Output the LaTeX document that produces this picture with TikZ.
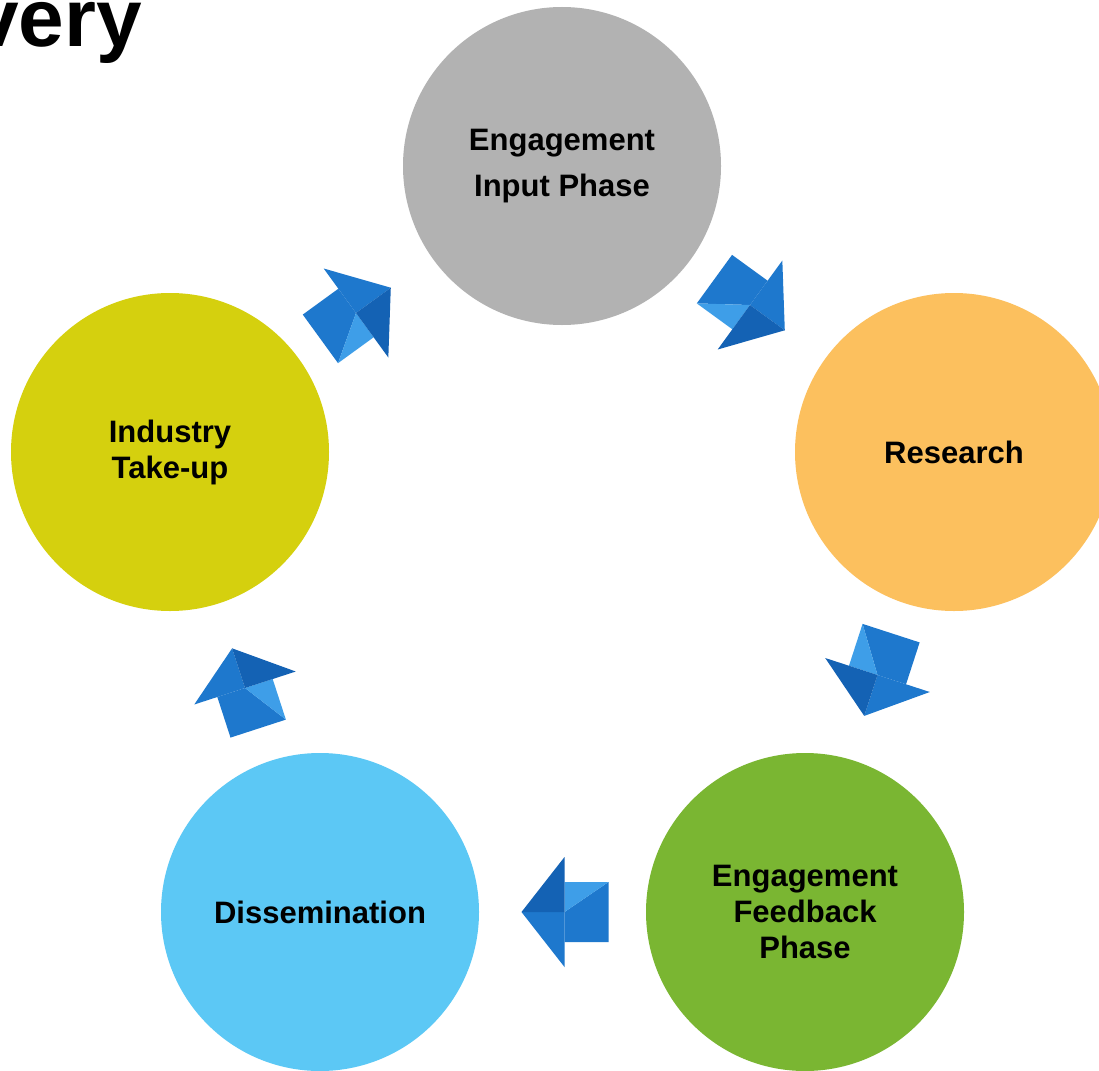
\documentclass[tikz,border=0pt]{standalone}
\usepackage{fontspec}
\setmainfont{Liberation Sans}
\usetikzlibrary{calc}
\definecolor{cgray}{RGB}{178,178,178}
\definecolor{corange}{RGB}{252,192,94}
\definecolor{cyellow}{RGB}{213,208,14}
\definecolor{cblue}{RGB}{92,200,245}
\definecolor{cgreen}{RGB}{122,182,50}
\definecolor{arA}{RGB}{30,120,205}
\definecolor{arB}{RGB}{20,98,180}
\definecolor{arC}{RGB}{62,158,232}
\begin{document}
\begin{tikzpicture}[x=1pt,y=-1pt,
  phase/.style={circle,minimum size=318pt,inner sep=0pt,align=center,
    font=\fontsize{31}{36}\selectfont\bfseries,text=black},
  arrow3d/.pic={
    \fill[arA] (-44,-30) -- (0,-30) -- (0,0) -- (-44,30) -- cycle;
    \fill[arC] (0,0) -- (0,30) -- (-44,30) -- cycle;
    \fill[arA] (43,0) -- (0,-55) -- (0,0) -- cycle;
    \fill[arB] (43,0) -- (0,55) -- (0,0) -- cycle;
  }]
\clip (0,0) rectangle (1099,1070);
\fill[white] (0,0) rectangle (1099,1070);
\node[font=\fontsize{82}{86}\selectfont\bfseries,anchor=base east,inner sep=0pt] (title) at (142,47) {very};
\node[phase,fill=cgray] (eng) at (562,166) {Engagement\\[10pt]Input Phase};
\node[phase,fill=corange] (res) at (954,452) {Research};
\node[phase,fill=cgreen] (fb) at (805,912) {Engagement\\Feedback\\Phase};
\node[phase,fill=cblue] (dis) at (320,912) {Dissemination};
\node[phase,fill=cyellow] (ind) at (170,452) {Industry\\Take-up};
\path ($(eng)!0.5!(res)+(-8,-4)$) pic[rotate=-36] {arrow3d};
\path ($(res)!0.5!(fb)+(-2,-7)$) pic[rotate=-108] {arrow3d};
\path ($(fb)!0.5!(dis)+(2,0)$) pic[rotate=180] {arrow3d};
\path ($(dis)!0.5!(ind)+(0,6)$) pic[rotate=108,scale=0.97] {arrow3d};
\path ($(ind)!0.5!(eng)+(-10,4)$) pic[rotate=36] {arrow3d};
\end{tikzpicture}
\end{document}
